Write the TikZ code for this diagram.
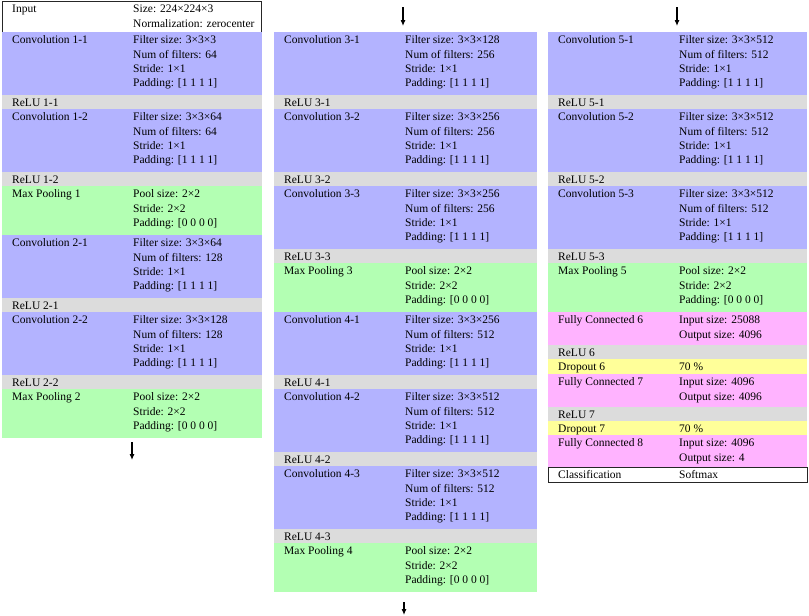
\documentclass[tikz,border=0pt]{standalone}
\usepackage{fontspec}
\setmainfont{Liberation Serif}
\usetikzlibrary{arrows.meta}
\definecolor{convc}{RGB}{179,179,255}
\definecolor{poolc}{RGB}{179,255,179}
\definecolor{reluc}{RGB}{220,220,220}
\definecolor{fcc}{RGB}{255,179,255}
\definecolor{dropc}{RGB}{255,255,153}
\newcommand\mystrut{\rule{0pt}{9pt}}
\newcommand\lyr[8]{%
  \node[cellbox,fill=#2,minimum width=#5pt,minimum height=#6pt] (#1) at (#3,#4) {};
  \node[labtxt] (#1l) at ([xshift=10pt,yshift=-11.5pt]#1.north west) {#7};
  \node[valtxt] (#1v) at ([xshift=131pt,yshift=-2.5pt]#1.north west) {\mystrut #8};
}
\tikzset{
  cellbox/.style={anchor=north west,inner sep=0pt,outer sep=0pt,draw=none},
  framed/.style={draw=black!85,line width=0.9pt},
  labtxt/.style={anchor=base west,inner sep=0pt,font=\fontsize{11.5}{14.4}\selectfont},
  valtxt/.style={anchor=north west,inner sep=0pt,align=left,font=\fontsize{11.5}{14.4}\selectfont},
  flowarrow/.style={line width=1.1pt,-{Latex[length=6pt,width=5pt]}}
}
\begin{document}
\begin{tikzpicture}[x=1pt,y=-1pt]
\useasboundingbox (0,0) rectangle (809,616);
% ---------------- column 1
\lyr{in}{white,framed}{2}{1}{259}{31}{Input}{Size: 224×224×3\\Normalization: zerocenter}
\lyr{c11}{convc}{2}{32}{260}{63}{Convolution 1-1}{Filter size: 3×3×3\\Num of filters: 64\\Stride: 1×1\\Padding: [1 1 1 1]}
\lyr{r11}{reluc}{2}{95}{260}{14}{ReLU 1-1}{}
\lyr{c12}{convc}{2}{109}{260}{63}{Convolution 1-2}{Filter size: 3×3×64\\Num of filters: 64\\Stride: 1×1\\Padding: [1 1 1 1]}
\lyr{r12}{reluc}{2}{172}{260}{14}{ReLU 1-2}{}
\lyr{p1}{poolc}{2}{186}{260}{49}{Max Pooling 1}{Pool size: 2×2\\Stride: 2×2\\Padding: [0 0 0 0]}
\lyr{c21}{convc}{2}{235}{260}{63}{Convolution 2-1}{Filter size: 3×3×64\\Num of filters: 128\\Stride: 1×1\\Padding: [1 1 1 1]}
\lyr{r21}{reluc}{2}{298}{260}{14}{ReLU 2-1}{}
\lyr{c22}{convc}{2}{312}{260}{63}{Convolution 2-2}{Filter size: 3×3×128\\Num of filters: 128\\Stride: 1×1\\Padding: [1 1 1 1]}
\lyr{r22}{reluc}{2}{375}{260}{14}{ReLU 2-2}{}
\lyr{p2}{poolc}{2}{389}{260}{49}{Max Pooling 2}{Pool size: 2×2\\Stride: 2×2\\Padding: [0 0 0 0]}
% ---------------- column 2
\lyr{c31}{convc}{274}{32}{263}{63}{Convolution 3-1}{Filter size: 3×3×128\\Num of filters: 256\\Stride: 1×1\\Padding: [1 1 1 1]}
\lyr{r31}{reluc}{274}{95}{263}{14}{ReLU 3-1}{}
\lyr{c32}{convc}{274}{109}{263}{63}{Convolution 3-2}{Filter size: 3×3×256\\Num of filters: 256\\Stride: 1×1\\Padding: [1 1 1 1]}
\lyr{r32}{reluc}{274}{172}{263}{14}{ReLU 3-2}{}
\lyr{c33}{convc}{274}{186}{263}{63}{Convolution 3-3}{Filter size: 3×3×256\\Num of filters: 256\\Stride: 1×1\\Padding: [1 1 1 1]}
\lyr{r33}{reluc}{274}{249}{263}{14}{ReLU 3-3}{}
\lyr{p3}{poolc}{274}{263}{263}{49}{Max Pooling 3}{Pool size: 2×2\\Stride: 2×2\\Padding: [0 0 0 0]}
\lyr{c41}{convc}{274}{312}{263}{63}{Convolution 4-1}{Filter size: 3×3×256\\Num of filters: 512\\Stride: 1×1\\Padding: [1 1 1 1]}
\lyr{r41}{reluc}{274}{375}{263}{14}{ReLU 4-1}{}
\lyr{c42}{convc}{274}{389}{263}{63}{Convolution 4-2}{Filter size: 3×3×512\\Num of filters: 512\\Stride: 1×1\\Padding: [1 1 1 1]}
\lyr{r42}{reluc}{274}{452}{263}{14}{ReLU 4-2}{}
\lyr{c43}{convc}{274}{466}{263}{63}{Convolution 4-3}{Filter size: 3×3×512\\Num of filters: 512\\Stride: 1×1\\Padding: [1 1 1 1]}
\lyr{r43}{reluc}{274}{529}{263}{14}{ReLU 4-3}{}
\lyr{p4}{poolc}{274}{543}{263}{49}{Max Pooling 4}{Pool size: 2×2\\Stride: 2×2\\Padding: [0 0 0 0]}
% ---------------- column 3
\lyr{c51}{convc}{548}{32}{259}{63}{Convolution 5-1}{Filter size: 3×3×512\\Num of filters: 512\\Stride: 1×1\\Padding: [1 1 1 1]}
\lyr{r51}{reluc}{548}{95}{259}{14}{ReLU 5-1}{}
\lyr{c52}{convc}{548}{109}{259}{63}{Convolution 5-2}{Filter size: 3×3×512\\Num of filters: 512\\Stride: 1×1\\Padding: [1 1 1 1]}
\lyr{r52}{reluc}{548}{172}{259}{14}{ReLU 5-2}{}
\lyr{c53}{convc}{548}{186}{259}{63}{Convolution 5-3}{Filter size: 3×3×512\\Num of filters: 512\\Stride: 1×1\\Padding: [1 1 1 1]}
\lyr{r53}{reluc}{548}{249}{259}{14}{ReLU 5-3}{}
\lyr{p5}{poolc}{548}{263}{259}{49}{Max Pooling 5}{Pool size: 2×2\\Stride: 2×2\\Padding: [0 0 0 0]}
\lyr{fc6}{fcc}{548}{312}{259}{33}{Fully Connected 6}{Input size: 25088\\Output size: 4096}
\lyr{r6}{reluc}{548}{345}{259}{14}{ReLU 6}{}
\lyr{d6}{dropc}{548}{359}{259}{15}{Dropout 6}{70 \%}
\lyr{fc7}{fcc}{548}{374}{259}{33}{Fully Connected 7}{Input size: 4096\\Output size: 4096}
\lyr{r7}{reluc}{548}{407}{259}{14}{ReLU 7}{}
\lyr{d7}{dropc}{548}{421}{259}{14}{Dropout 7}{70 \%}
\lyr{fc8}{fcc}{548}{435}{259}{32}{Fully Connected 8}{Input size: 4096\\Output size: 4}
\lyr{cls}{white,framed}{548}{467}{259}{15}{Classification}{Softmax}
% ---------------- arrows
\coordinate (a1s) at (132,442); \coordinate (a1e) at (132,460);
\coordinate (a2s) at (403,7);   \coordinate (a2e) at (403,26);
\coordinate (a3s) at (404,602); \coordinate (a3e) at (404,615);
\coordinate (a4s) at (677,7);   \coordinate (a4e) at (677,26);
\draw[flowarrow] (a1s) -- (a1e);
\draw[flowarrow] (a2s) -- (a2e);
\draw[flowarrow] (a3s) -- (a3e);
\draw[flowarrow] (a4s) -- (a4e);
\end{tikzpicture}
\end{document}
